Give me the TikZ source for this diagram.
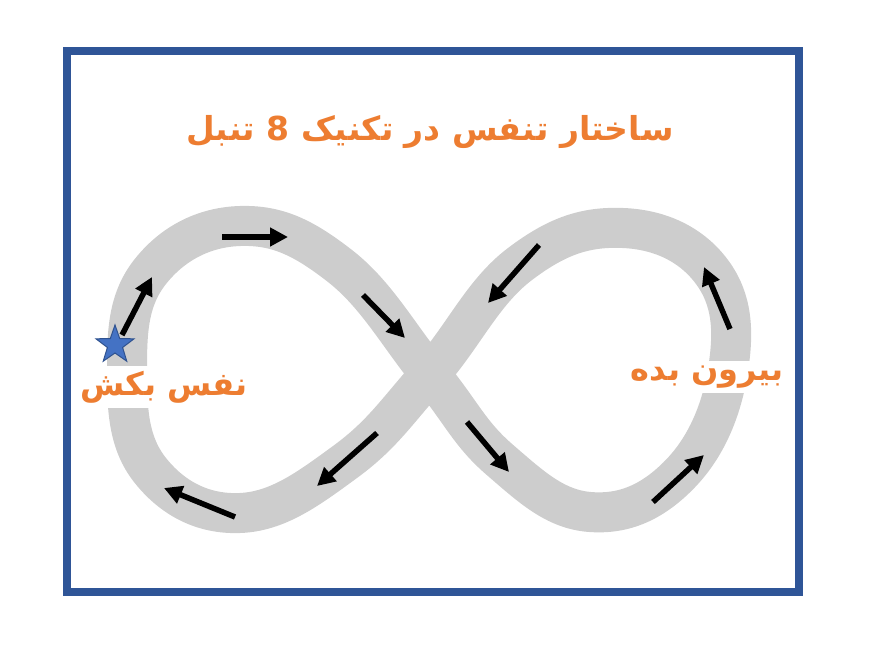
\documentclass[tikz,border=0pt]{standalone}
\usepackage{fontspec}
\newfontfamily\arabicfont[Script=Arabic]{DejaVu Sans}
\TeXXeTstate=1
\usetikzlibrary{arrows.meta,shapes.geometric}
\definecolor{framebl}{RGB}{47,85,151}
\definecolor{bandgr}{RGB}{205,205,205}
\definecolor{titleor}{RGB}{237,125,49}
\definecolor{starbl}{RGB}{68,114,196}
\definecolor{stardk}{RGB}{47,82,143}
\tikzset{
  band/.style={draw=bandgr,line width=40pt},
  flow/.style={->,line width=5.5pt,black},
  breathlbl/.style={text=titleor,font=\arabicfont\bfseries\fontsize{32}{34}\selectfont,fill=white,inner xsep=2pt,inner ysep=5pt}
}
\begin{document}
\begin{tikzpicture}[x=1pt,y=-1pt,>={Triangle[length=18pt,width=18pt]}]
\useasboundingbox (0,0) rectangle (871,648);
\draw[framebl,line width=8pt] (67,51) rectangle (799,592);
% the figure eight
\draw[band] plot[smooth cycle,tension=0.7] coordinates{(430,374) (500,460) (590,512) (680,474) (728,370) (712,272) (623,228) (520,264)
  (430,374) (345,462) (240,513) (150,470) (127,370) (150,272) (240,226) (340,266)};
% direction of breathing
\foreach \a/\b in {{222,237}/{288,237},{363,295}/{405,338},{467,422}/{509,472},{653,502}/{704,455},
  {730,329}/{704,267},{539,245}/{488,303},{377,433}/{317,486},{235,517}/{164,488},{122,335}/{152,277}}
  \draw[flow] (\a) -- (\b);
\node[star,star points=5,star point ratio=2.5,fill=starbl,draw=stardk,line width=1pt,minimum size=40pt,inner sep=0pt] (start) at (115,345) {};
\node[breathlbl] (inhale) at (164,387) {\beginR نفس بکش\endR};
\node[breathlbl] (exhale) at (707,377) {\beginR بیرون بده\endR};
\node[text=titleor,font=\arabicfont\bfseries\fontsize{33}{36}\selectfont] (title) at (430,132) {\beginR ساختار تنفس در تکنیک 8 تنبل\endR};
\end{tikzpicture}
\end{document}
